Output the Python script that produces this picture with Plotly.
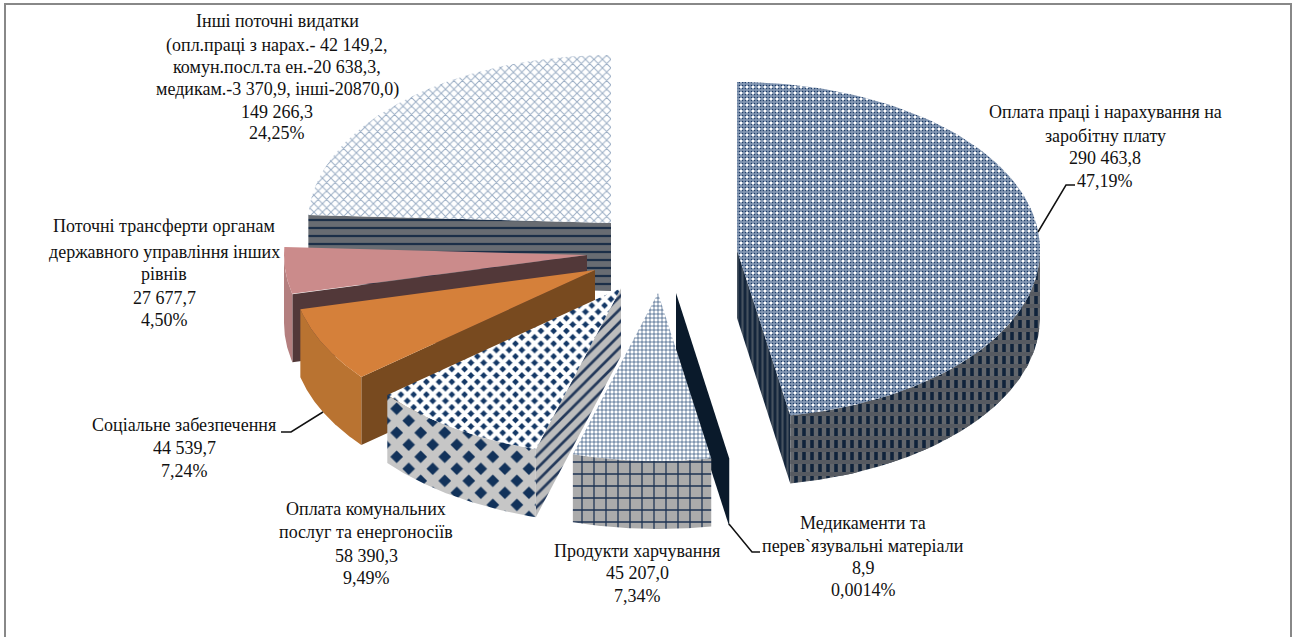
import math
import plotly.graph_objects as go

# ---- data ----
categories = ["Оплата праці і нарахування на заробітну плату",
              "Медикаменти та перев`язувальні матеріали",
              "Продукти харчування",
              "Оплата комунальних послуг та енергоносіїв",
              "Соціальне забезпечення",
              "Поточні трансферти органам державного управління інших рівнів",
              "Інші поточні видатки"]
values = [290463.8, 8.9, 45207.0, 58390.3, 44539.7, 27677.7, 149266.3]

label_lines = [
    ["Оплата праці і нарахування на", "заробітну плату", "290 463,8", "47,19%"],
    ["Медикаменти та", "перев`язувальні матеріали", "8,9", "0,0014%"],
    ["Продукти харчування", "45 207,0", "7,34%"],
    ["Оплата комунальних", "послуг та енергоносіїв", "58 390,3", "9,49%"],
    ["Соціальне забезпечення", "44 539,7", "7,24%"],
    ["Поточні трансферти органам", "державного управління інших", "рівнів", "27 677,7", "4,50%"],
    ["Інші поточні видатки", "(опл.праці з нарах.- 42 149,2,", "комун.посл.та ен.-20 638,3,",
     "медикам.-3 370,9, інші-20870,0)", "149 266,3", "24,25%"],
]

# ---- layout of the exploded 3-D pie (pixel space of the axes) ----
RX, RY, DEPTH = 303, 168, 68
apex = [(737, 250), (676, 293), (658, 293), (621, 288), (595, 270), (587, 255), (611, 223)]
label_x = [1105, 863, 637, 366, 184, 164, 277]
label_y = [[112, 136, 158, 181], [523, 546, 568, 590], [551, 573, 596],
           [509, 532, 556, 578], [425, 448, 471], [226, 252, 274, 298, 320],
           [21, 45, 67, 89, 112, 133]]
leaders = [([1038, 1066, 1075], [232, 185, 185]),
           ([729, 752, 760], [524, 552, 552]),
           ([323, 291, 281], [412, 432, 432])]

def pat(shape, size, solidity, fg, bg=None):
    d = dict(shape=shape, size=size, solidity=solidity, fgcolor=fg, fgopacity=1, fillmode="overlay")
    if bg:
        d["bgcolor"] = bg
    return d

# style per slice: top, outer wall, radial wall: each a list of pattern layers or a solid colour
styles = [
    dict(top=[pat(".", 3, .24, "#173662", "#8397b3"), pat(".", 6, .2, "#ffffff")],
         outer=[pat("|", 8, .45, "#10233b", "#62666c"), pat("-", 12, .33, "#565a61")],
         wall=[pat("|", 5, .42, "#46525f", "#14263c")]),
    dict(top="#0a1a2b", outer="#0a1a2b", wall="#0a1a2b"),
    dict(top=[pat("+", 4, .3, "#1f4272", "#ffffff")],
         outer=[pat("+", 12, .2, "#1c3252", "#ababab")],
         wall="#7a7d82"),
    dict(top=[pat("x", 9, .72, "#ffffff", "#143866")],
         outer=[pat("x", 17, .72, "#c6c6c6", "#12325a")],
         wall=[pat("/", 9, .3, "#24395a", "#bdbdbd")]),
    dict(top="#d5803a", outer="#b97331", wall="#784a1f"),
    dict(top="#cb8b8b", outer="#b47f7f", wall="#523839"),
    dict(top=[pat("x", 6, .3, "#9aadc4", "#ffffff")],
         outer="#666a70",
         wall=[pat("-", 8, .28, "#1c2f48", "#686c72")]),
]

# ---- angles derive from the values ----
total = sum(values)
angles = []
acc = 0.0
for v in values:
    angles.append((acc / total * 2 * math.pi, (acc + v) / total * 2 * math.pi))
    acc += v

def pt(i, a, dz=0):
    ax, ay = apex[i]
    return ax + RX * math.sin(a), ay - RY * math.cos(a) + dz

def arc(i, a0, a1, dz=0, n=90):
    return [pt(i, a0 + (a1 - a0) * k / n, dz) for k in range(n + 1)]

fig = go.Figure()

def add_poly(pts, style, name):
    xs = [p[0] for p in pts] + [pts[0][0]]
    ys = [p[1] for p in pts] + [pts[0][1]]
    layers = style if isinstance(style, list) else [None]
    for layer in layers:
        if layer is None:
            kw = dict(fillcolor=style)
        else:
            kw = dict(fillpattern=layer, fillcolor=layer.get("bgcolor", "rgba(0,0,0,0)"))
        fig.add_trace(go.Scatter(x=xs, y=ys, mode="lines", line=dict(width=0), fill="toself",
                                 hoverinfo="text", text=name, showlegend=False, **kw))

def draw_slice(i):
    a0, a1 = angles[i]
    s = styles[i]
    name = categories[i]
    ax, ay = apex[i]
    # radial walls that face the viewer
    if i in (0, 1):
        add_poly([(ax, ay), pt(i, a1), pt(i, a1, DEPTH), (ax, ay + DEPTH)], s["wall"], name)
    if i in (3, 4, 5, 6):
        add_poly([(ax, ay), pt(i, a0), pt(i, a0, DEPTH), (ax, ay + DEPTH)], s["wall"], name)
    # outer curved wall, only where it faces the viewer
    lo, hi = max(a0, math.pi / 2), min(a1, 3 * math.pi / 2)
    if hi > lo:
        add_poly(arc(i, lo, hi) + arc(i, lo, hi, DEPTH)[::-1], s["outer"], name)
    # top face
    add_poly([(ax, ay)] + arc(i, a0, a1), s["top"], name)

for i in (6, 5, 4, 3, 0, 1, 2):
    draw_slice(i)

for lx, ly in leaders:
    fig.add_trace(go.Scatter(x=lx, y=ly, mode="lines", line=dict(color="#111111", width=1.5),
                             hoverinfo="skip", showlegend=False))

annotations = []
for lines, x, ys in zip(label_lines, label_x, label_y):
    for text, y in zip(lines, ys):
        annotations.append(dict(x=x, y=y, text=text, xref="x", yref="y", showarrow=False,
                                xanchor="center", yanchor="middle",
                                font=dict(family="Liberation Serif", size=18, color="#111111")))

fig.update_layout(
    width=1296, height=637, margin=dict(l=0, r=0, t=0, b=0),
    paper_bgcolor="white", plot_bgcolor="white", showlegend=False,
    xaxis=dict(range=[0, 1296], visible=False, fixedrange=True),
    yaxis=dict(range=[637, 0], visible=False, fixedrange=True),
    annotations=annotations,
    shapes=[dict(type="rect", xref="x", yref="y", x0=5, y0=4, x1=1291, y1=660,
                 line=dict(color="#888888", width=2), fillcolor="rgba(0,0,0,0)", layer="below")],
)
fig.write_html("out.html", config=dict(displayModeBar=False),
               post_script="document.body.style.margin='0';document.body.style.overflow='hidden';")
